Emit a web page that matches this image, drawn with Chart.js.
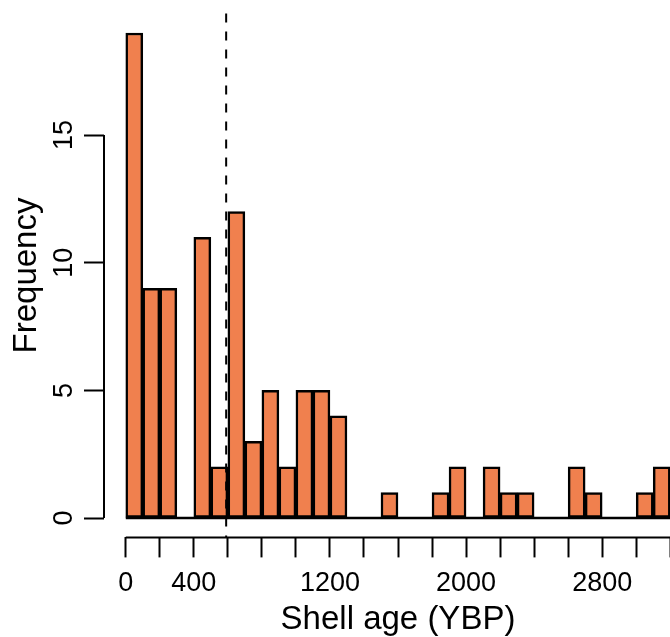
<!DOCTYPE html>
<html lang="en">
<head>
  <meta charset="UTF-8">
  <title>Shell age histogram</title>
  <script src="https://cdn.jsdelivr.net/npm/chart.js"></script>
  <style>
    html, body {
      margin: 0;
      background: white;
      overflow: hidden;
    }
    canvas {
      display: block;
    }
  </style>
</head>
<body>

<!-- plot region runs past the right edge of the window, like the original -->
<canvas id="chart" width="692" height="637"></canvas>

<script>
  // histogram bins (100 yr wide), midpoints and counts
  const binMids = [50, 150, 250, 350, 450, 550, 650, 750, 850, 950,
                   1050, 1150, 1250, 1350, 1450, 1550, 1650, 1750, 1850, 1950,
                   2050, 2150, 2250, 2350, 2450, 2550, 2650, 2750, 2850, 2950,
                   3050, 3150];
  const counts  = [19, 9, 9, 0, 11, 2, 12, 3, 5, 2,
                   5, 5, 4, 0, 0, 1, 0, 0, 1, 2,
                   0, 2, 1, 1, 0, 0, 2, 1, 0, 0,
                   1, 2];
  const xFirst = 0;
  const xLast = 3200;
  const cutoff = 590;   // dashed reference line

  const xTicks = [0, 200, 400, 600, 800, 1000, 1200, 1400, 1600, 1800,
                  2000, 2200, 2400, 2600, 2800, 3000, 3200];
  const xLabelled = [0, 400, 1200, 2000, 2800];
  const yTicks = [0, 5, 10, 15];

  const font = 'Liberation Sans, Arial, Helvetica, sans-serif';

  // R-style bits: short axis lines, flat empty bins, dashed line
  const rStyle = {
    id: 'rStyle',
    beforeDatasetsDraw(chart) {
      const { ctx, scales: { x, y } } = chart;
      ctx.save();
      ctx.strokeStyle = 'black';
      ctx.lineWidth = 2.5;
      ctx.beginPath();
      ctx.moveTo(x.getPixelForValue(xFirst), y.getPixelForValue(0));
      ctx.lineTo(x.getPixelForValue(xLast), y.getPixelForValue(0));
      ctx.stroke();
      ctx.restore();
    },
    afterDatasetsDraw(chart) {
      const { ctx, chartArea, scales: { x } } = chart;
      ctx.save();
      ctx.strokeStyle = 'black';
      ctx.lineWidth = 2;
      ctx.setLineDash([9, 9]);
      const cx = x.getPixelForValue(cutoff);
      ctx.beginPath();
      ctx.moveTo(cx, chartArea.top);
      ctx.lineTo(cx, chartArea.bottom);
      ctx.stroke();
      ctx.restore();
    },
    afterDraw(chart) {
      const { ctx, chartArea, scales: { x, y } } = chart;
      ctx.save();
      ctx.strokeStyle = 'black';
      ctx.lineWidth = 2;
      ctx.beginPath();
      ctx.moveTo(chartArea.left, y.getPixelForValue(yTicks[0]));
      ctx.lineTo(chartArea.left, y.getPixelForValue(yTicks[yTicks.length - 1]));
      ctx.moveTo(x.getPixelForValue(xTicks[0]), chartArea.bottom);
      ctx.lineTo(x.getPixelForValue(xTicks[xTicks.length - 1]), chartArea.bottom);
      ctx.stroke();
      ctx.restore();
    }
  };

  const noPad = s => {
    s.paddingTop = 0;
    s.paddingBottom = 0;
    s.paddingLeft = 0;
    s.paddingRight = 0;
  };

  new Chart(document.getElementById('chart'), {
    type: 'bar',
    data: {
      datasets: [{
        data: binMids.map((m, i) => ({ x: m, y: counts[i] })),
        backgroundColor: '#F0804E',
        borderColor: 'black',
        borderWidth: 2.5,
        borderSkipped: false,
        barPercentage: 1,
        categoryPercentage: 1
      }]
    },
    options: {
      responsive: false,
      animation: false,
      devicePixelRatio: 1,
      layout: { padding: { top: 13.6, right: 0, left: 0, bottom: 0 } },
      plugins: {
        legend: { display: false },
        tooltip: { enabled: false }
      },
      scales: {
        x: {
          type: 'linear',
          min: -128,
          max: 3328,
          offset: false,
          afterBuildTicks: s => { s.ticks = xTicks.map(v => ({ value: v })); },
          afterFit: s => { s.height = 99.6; noPad(s); },
          border: { display: false },
          grid: {
            offset: false,
            drawOnChartArea: false,
            drawTicks: true,
            tickLength: 20,
            tickWidth: 2,
            tickColor: 'black'
          },
          ticks: {
            autoSkip: false,
            maxRotation: 0,
            padding: 10,
            color: 'black',
            font: { family: font, size: 27 },
            callback: v => xLabelled.includes(v) ? String(v) : ''
          },
          title: {
            display: true,
            text: 'Shell age (YBP)',
            color: 'black',
            font: { family: font, size: 33 },
            padding: { top: 0, bottom: -3 }
          }
        },
        y: {
          min: -0.76,
          max: 19.76,
          afterBuildTicks: s => { s.ticks = yTicks.map(v => ({ value: v })); },
          afterFit: s => { s.width = 104; noPad(s); },
          border: { display: false },
          grid: {
            drawOnChartArea: false,
            drawTicks: true,
            tickLength: 20,
            tickWidth: 2,
            tickColor: 'black'
          },
          ticks: {
            minRotation: 90,
            maxRotation: 90,
            crossAlign: 'center',
            padding: 4,
            color: 'black',
            font: { family: font, size: 27 }
          },
          title: {
            display: true,
            text: 'Frequency',
            color: 'black',
            font: { family: font, size: 33 },
            padding: { top: 7, bottom: 0 }
          }
        }
      }
    },
    plugins: [rStyle]
  });
</script>
</body>
</html>
